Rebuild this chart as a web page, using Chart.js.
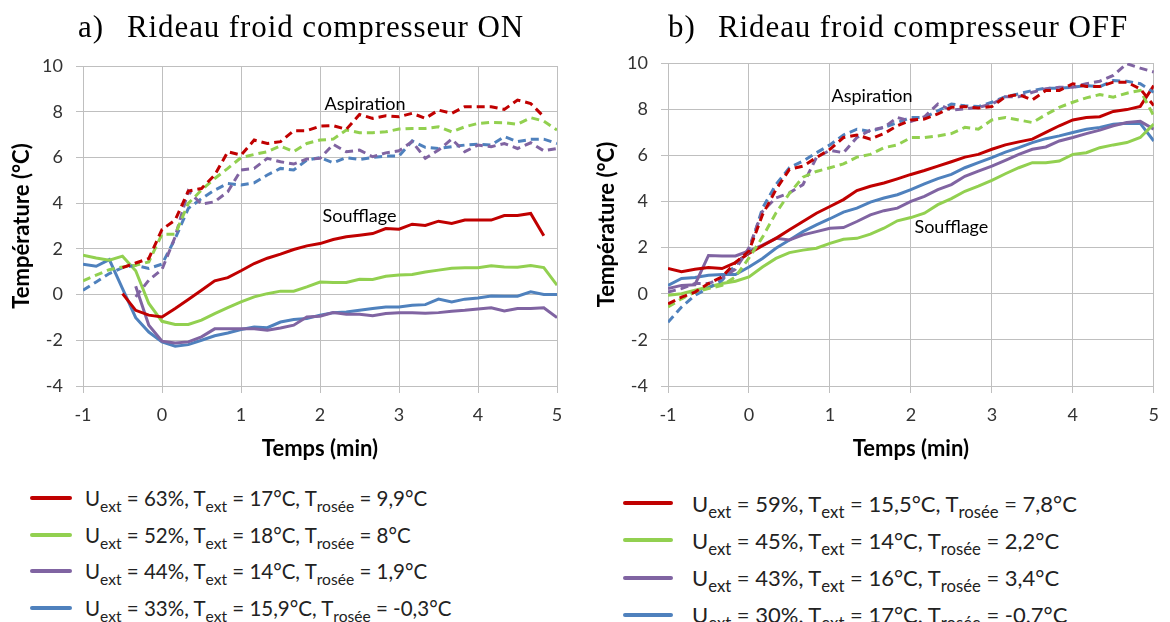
<!DOCTYPE html>
<html>
<head>
<meta charset="utf-8">
<script src="https://cdn.jsdelivr.net/npm/chart.js@4.4.0/dist/chart.umd.min.js"></script>
<style>
  body { margin: 0; background: #fff; width: 1170px; height: 622px; overflow: hidden; position: relative; font-family: Lato, sans-serif; }
  .panel { position: absolute; top: 0; width: 585px; height: 470px; }
  .title { position: absolute; top: 7px; font-family: 'Liberation Serif', serif; font-size: 31px; letter-spacing: 0.9px; color: #000; white-space: pre; line-height: 40px; }
  .legend { position: absolute; color: #222; }
  .row { position: absolute; left: 0; height: 30px; white-space: nowrap; display: flex; align-items: center; }
  .swatch { height: 4px; border-radius: 2px; }
  sub { font-size: 0.76em; vertical-align: -0.36em; line-height: 0; }
</style>
</head>
<body>
<div class="panel" style="left:0"><canvas id="chartOn"></canvas></div>
<div class="panel" style="left:585px"><canvas id="chartOff"></canvas></div>
<div class="title" style="left:78px">a)</div>
<div class="title" style="left:127px">Rideau froid compresseur ON</div>
<div class="title" style="left:668px">b)</div>
<div class="title" style="left:718px">Rideau froid compresseur OFF</div>
<div class="legend" id="legendOn" style="left:30px;top:483px;font-size:20.5px"></div>
<div class="legend" id="legendOff" style="left:623px;top:488px;font-size:22px"></div>

<script>
// time axis, one reading every 10 s
const times = [-1, -0.833, -0.667, -0.5, -0.333, -0.167, 0, 0.167, 0.333, 0.5, 0.667, 0.833,
  1, 1.167, 1.333, 1.5, 1.667, 1.833, 2, 2.167, 2.333, 2.5, 2.667, 2.833,
  3, 3.167, 3.333, 3.5, 3.667, 3.833, 4, 4.167, 4.333, 4.5, 4.667, 4.833, 5];

// a) compresseur ON — soufflage (solid)
const onSouffRed = [null, null, null, 0.04, -0.69, -0.9, -0.98, -0.61, -0.22, 0.19, 0.6, 0.74, 1.04, 1.36, 1.59, 1.77, 1.97, 2.13, 2.23, 2.41, 2.53, 2.6, 2.67, 2.89, 2.86, 3.08, 3.02, 3.21, 3.11, 3.26, 3.26, 3.26, 3.46, 3.46, 3.55, 2.57, null];
const onSouffGreen = [1.72, 1.6, 1.5, 1.68, 1.04, -0.39, -1.17, -1.31, -1.31, -1.12, -0.83, -0.57, -0.32, -0.1, 0.04, 0.15, 0.15, 0.34, 0.55, 0.53, 0.53, 0.67, 0.66, 0.8, 0.86, 0.88, 0.99, 1.07, 1.15, 1.17, 1.17, 1.26, 1.21, 1.2, 1.27, 1.18, 0.41];
const onSouffPurple = [null, null, null, null, 0.36, -1.34, -2.04, -2.12, -2.07, -1.85, -1.5, -1.5, -1.5, -1.5, -1.56, -1.46, -1.34, -0.98, -0.95, -0.79, -0.86, -0.86, -0.93, -0.83, -0.8, -0.8, -0.82, -0.79, -0.73, -0.69, -0.63, -0.58, -0.72, -0.61, -0.61, -0.58, -1.01];
const onSouffBlue = [1.33, 1.24, 1.53, 0.26, -1.01, -1.64, -2.07, -2.26, -2.19, -2.0, -1.8, -1.68, -1.53, -1.42, -1.45, -1.2, -1.09, -1.05, -0.9, -0.79, -0.76, -0.69, -0.61, -0.54, -0.54, -0.47, -0.44, -0.2, -0.32, -0.2, -0.15, -0.06, -0.07, -0.07, 0.12, 0, 0];
// a) compresseur ON — aspiration (dashed)
const onAspRed = [null, null, null, 1.18, 1.38, 1.58, 2.85, 3.26, 4.53, 4.64, 5.23, 6.25, 6.1, 6.76, 6.61, 6.69, 7.17, 7.17, 7.37, 7.39, 7.23, 7.88, 7.71, 7.82, 7.78, 7.93, 7.71, 8.07, 7.93, 8.22, 8.22, 8.22, 8.1, 8.51, 8.36, 7.78, null];
const onAspGreen = [0.6, 0.85, 1.09, 1.21, 1.28, 1.43, 2.64, 2.64, 3.99, 4.57, 5.08, 5.52, 5.99, 6.13, 6.25, 6.5, 6.25, 6.61, 6.76, 6.8, 7.2, 7.08, 7.08, 7.12, 7.24, 7.27, 7.27, 7.34, 7.12, 7.34, 7.49, 7.53, 7.52, 7.45, 7.74, 7.59, 7.2];
const onAspPurple = [null, null, null, null, -0.1, 0.63, 1.1, 2.53, 4.53, 3.96, 4.06, 4.5, 5.45, 5.52, 5.96, 5.81, 5.71, 5.93, 5.96, 6.57, 6.25, 6.32, 6.03, 6.2, 6.29, 6.69, 5.96, 6.32, 6.8, 6.25, 6.54, 6.47, 6.61, 6.39, 6.64, 6.29, 6.39];
const onAspBlue = [0.19, 0.55, 0.92, 1.18, 1.28, 1.14, 1.33, 2.45, 3.77, 4.2, 4.57, 4.86, 4.79, 4.89, 5.23, 5.52, 5.45, 5.88, 5.99, 5.77, 5.99, 5.91, 6.0, 6.06, 6.06, 6.72, 6.44, 6.39, 6.47, 6.54, 6.58, 6.54, 6.91, 6.69, 6.79, 6.8, 6.61];

// b) compresseur OFF — soufflage (solid)
const offSouffRed = [1.09, 0.95, 1.06, 1.14, 1.09, 1.35, 1.75, 2.08, 2.4, 2.77, 3.13, 3.49, 3.78, 4.08, 4.47, 4.66, 4.8, 4.98, 5.17, 5.34, 5.53, 5.72, 5.92, 6.04, 6.26, 6.45, 6.58, 6.7, 6.99, 7.28, 7.53, 7.64, 7.67, 7.9, 7.98, 8.12, 9.02];
const offSouffGreen = [-0.07, 0, 0.15, 0.29, 0.44, 0.54, 0.73, 1.16, 1.53, 1.78, 1.89, 1.97, 2.18, 2.36, 2.4, 2.58, 2.84, 3.16, 3.3, 3.49, 3.86, 4.12, 4.44, 4.66, 4.91, 5.2, 5.46, 5.68, 5.68, 5.75, 6.04, 6.11, 6.33, 6.45, 6.55, 6.77, 7.35];
const offSouffPurple = [0.22, 0.36, 0.39, 1.66, 1.64, 1.64, 1.85, 2.11, 2.4, 2.33, 2.55, 2.69, 2.84, 2.87, 3.13, 3.42, 3.6, 3.71, 4.0, 4.22, 4.51, 4.73, 5.09, 5.31, 5.53, 5.78, 6.04, 6.26, 6.36, 6.62, 6.77, 6.94, 7.09, 7.28, 7.42, 7.47, 7.13];
const offSouffBlue = [0.36, 0.66, 0.7, 0.8, 0.83, 0.83, 1.16, 1.53, 1.97, 2.33, 2.69, 2.98, 3.25, 3.54, 3.71, 3.97, 4.15, 4.29, 4.51, 4.76, 4.99, 5.17, 5.46, 5.68, 5.9, 6.14, 6.33, 6.55, 6.72, 6.84, 6.99, 7.13, 7.21, 7.35, 7.39, 7.38, 6.62];
// b) compresseur OFF — aspiration (dashed)
const offAspRed = [-0.44, -0.15, 0.07, 0.44, 0.73, 1.35, 1.85, 3.42, 4.51, 5.39, 5.53, 5.9, 6.26, 6.77, 6.88, 6.7, 6.94, 7.28, 7.53, 7.57, 7.79, 8.08, 8.11, 8.05, 8.11, 8.54, 8.63, 8.4, 8.81, 8.81, 9.1, 8.98, 8.98, 9.17, 9.17, 8.88, 8.15];
const offAspGreen = [-0.58, -0.22, 0.07, 0.22, 0.36, 0.73, 1.55, 2.45, 3.5, 4.35, 5.05, 5.3, 5.46, 5.63, 5.92, 6.04, 6.33, 6.45, 6.77, 6.77, 6.84, 6.94, 7.21, 7.13, 7.53, 7.64, 7.53, 7.42, 7.76, 8.08, 8.3, 8.49, 8.63, 8.52, 8.69, 8.81, 7.71];
const offAspPurple = [0.07, 0.22, 0.44, 0.44, 0.68, 1.06, 1.99, 3.57, 4.15, 4.37, 4.73, 5.9, 6.22, 6.11, 6.77, 7.09, 7.21, 7.64, 7.47, 7.67, 8.22, 7.96, 8.01, 8.08, 8.22, 8.54, 8.54, 8.73, 8.88, 8.95, 8.95, 9.1, 9.21, 9.46, 9.97, 9.78, 9.61];
const offAspBlue = [-1.24, -0.58, -0.07, 0.25, 0.58, 1.24, 1.82, 3.71, 4.73, 5.46, 5.75, 6.11, 6.45, 6.88, 7.13, 7.03, 7.21, 7.42, 7.64, 7.64, 7.93, 8.22, 8.15, 8.11, 8.3, 8.54, 8.66, 8.81, 8.91, 8.91, 8.95, 9.02, 8.98, 9.24, 9.21, 9.1, 8.73];

// legend conditions
const onUext = ['63', '52', '44', '33'];
const onText = ['17', '18', '14', '15,9'];
const onTrosee = ['9,9', '8', '1,9', '-0,3'];
const offUext = ['59', '45', '43', '30'];
const offText = ['15,5', '14', '16', '17'];
const offTrosee = ['7,8', '2,2', '3,4', '-0,7'];

const xTicks = [-1, 0, 1, 2, 3, 4, 5];
const yTicks = [-4, -2, 0, 2, 4, 6, 8, 10];

const COLORS = ['#C00000', '#92D050', '#8064A2', '#4F81BD'];
const GRID = '#BFBFBF';
const SANS = 'Lato, sans-serif';

// text labels "Aspiration" / "Soufflage" placed in data coordinates
const noteLabels = {
  id: 'noteLabels',
  afterDatasetsDraw(chart, args, opts) {
    const { ctx, scales } = chart;
    ctx.save();
    ctx.font = "18px " + SANS;
    ctx.fillStyle = '#000';
    ctx.textAlign = 'center';
    ctx.textBaseline = 'middle';
    (opts.items || []).forEach(it => {
      ctx.fillText(it.text, scales.x.getPixelForValue(it.x), scales.y.getPixelForValue(it.y));
    });
    ctx.restore();
  }
};

function series(vals, color, dashed) {
  return {
    data: times.map((t, i) => ({ x: t, y: vals[i] })),
    borderColor: color,
    backgroundColor: color,
    borderWidth: 3,
    borderDash: dashed ? [8, 5] : [],
    pointRadius: 0,
    tension: 0,
    fill: false,
    spanGaps: false,
  };
}

function makeChart(id, solid, dashed, notes, padRight, padTop) {
  const datasets = [];
  dashed.forEach((v, i) => datasets.push(series(v, COLORS[i], true)));
  solid.forEach((v, i) => datasets.push(series(v, COLORS[i], false)));
  return new Chart(document.getElementById(id), {
    type: 'line',
    data: { datasets },
    options: {
      responsive: true,
      maintainAspectRatio: false,
      animation: false,
      layout: { padding: { left: 0, right: padRight, top: padTop, bottom: 0 } },
      plugins: {
        legend: { display: false },
        tooltip: { enabled: false },
        noteLabels: { items: notes },
      },
      scales: {
        x: {
          type: 'linear', min: -1, max: 5,
          afterBuildTicks(scale) { scale.ticks = xTicks.map(v => ({ value: v })); },
          ticks: { color: '#333', font: { family: SANS, size: 18 }, padding: 11, maxRotation: 0 },
          grid: { color: GRID, tickLength: 7, tickColor: GRID },
          border: { color: GRID },
          title: { display: true, text: 'Temps (min)', color: '#000', font: { family: SANS, size: 22, weight: 'bold' }, padding: { top: 0, bottom: 8 } },
          afterFit(scale) { scale.height = 84; },
        },
        y: {
          min: -4, max: 10,
          afterBuildTicks(scale) { scale.ticks = yTicks.map(v => ({ value: v })); },
          ticks: { color: '#333', font: { family: SANS, size: 18 }, padding: 13 },
          grid: { color: GRID, tickLength: 7, tickColor: GRID },
          border: { color: GRID },
          title: { display: true, text: 'Température (°C)', color: '#000', font: { family: SANS, size: 22, weight: 'bold' }, padding: { top: 9, bottom: 0 } },
          afterFit(scale) { scale.width = 83; },
        },
      },
    },
    plugins: [noteLabels],
  });
}

makeChart('chartOn',
  [onSouffRed, onSouffGreen, onSouffPurple, onSouffBlue],
  [onAspRed, onAspGreen, onAspPurple, onAspBlue],
  [{ text: 'Aspiration', x: 2.57, y: 8.34 }, { text: 'Soufflage', x: 2.5, y: 3.45 }],
  28, 66);
makeChart('chartOff',
  [offSouffRed, offSouffGreen, offSouffPurple, offSouffBlue],
  [offAspRed, offAspGreen, offAspPurple, offAspBlue],
  [{ text: 'Aspiration', x: 1.52, y: 8.56 }, { text: 'Soufflage', x: 2.5, y: 2.88 }],
  14, 63);

function buildLegend(elId, uext, text, trosee, swatchW, gap, rowH) {
  const box = document.getElementById(elId);
  uext.forEach((u, i) => {
    const row = document.createElement('div');
    row.className = 'row';
    row.style.top = (i * rowH) + 'px';
    row.innerHTML =
      '<span class="swatch" style="width:' + swatchW + 'px;margin-right:' + gap + 'px;background:' + COLORS[i] + '"></span>' +
      '<span>U<sub>ext</sub> = ' + u + '%, T<sub>ext</sub> = ' + text[i] + '°C, T<sub>rosée</sub> = ' + trosee[i] + '°C</span>';
    box.appendChild(row);
  });
}
buildLegend('legendOn', onUext, onText, onTrosee, 42, 13, 36.7);
buildLegend('legendOff', offUext, offText, offTrosee, 50, 19, 37.3);
</script>
</body>
</html>
